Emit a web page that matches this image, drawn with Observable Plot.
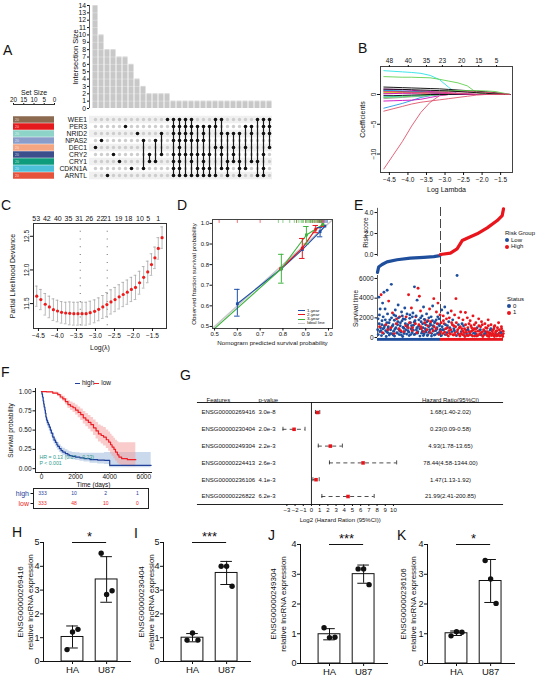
<!DOCTYPE html>
<html>
<head>
<meta charset="utf-8">
<script src="https://cdn.jsdelivr.net/npm/d3@7"></script>
<script src="https://cdn.jsdelivr.net/npm/@observablehq/plot@0.6"></script>
<style>
  html, body { margin: 0; padding: 0; background: #fff; }
  #fig { position: relative; width: 540px; height: 679px; overflow: hidden; background: #fff;
         font-family: "Liberation Sans", Arial, sans-serif; color: #111; }
  .tag { position: absolute; font-size: 14px; line-height: 1; }
  .note { position: absolute; white-space: nowrap; line-height: 1; }
</style>
</head>
<body>
<div id="fig"></div>
<script>
// ---------------- data ----------------
// A: UpSet of clock genes
const upsetGenes = ["WEE1","PER3","NRID2","NPAS2","DEC1","CRY2","CRY1","CDKN1A","ARNTL"];
const upsetColors = ["#8c6a4f","#e41a1c","#8dd3c7","#8a9cc9","#f4a582","#3b4f8c","#0e9c7c","#4cbfd9","#e5533d"];
const upsetSetSize = [20,20,20,20,20,20,20,20,20];
const upsetCounts = [14,10,8,8,7,7,6,4,3,2,2,2,2,1,1,1,1,1,1,1,1,1,1,1,1,1,1,1,1,1];
const upsetMembers = [
  [4],[3],[8],[5],[6],[1],[7],[2],[3,7],[5,6],[3,6],[2,5],[0],
  [0,1,2,3,5,6,7,8],[0,1,2,3,4,5,6,7,8],[0,1,2,3,5,8],[0,1,2,3,5,6,8],[1,3,5,7,8],
  [1,2,3,5,6,7,8],[1,5,7,8],[0,1,4,8],[0,2,4,5,7],[2,6,7,8],[2,4,5,6],[2,6,7,8],
  [1,4,7],[1,2,6],[0,6,8],[0,1,2,5,7,8],[0,1,2,4]
];

// B: LASSO coefficient paths
const lassoLogLambda = [-4.65,-4.4,-4.15,-3.9,-3.65,-3.4,-3.15,-2.9,-2.65,-2.4,-2.15,-1.9,-1.65,-1.4,-1.25];
const lassoColors = ["#28E2E5","#61D04F","#000000","#61D04F","#CD0BBC","#DF536B","#DF536B","#2297E6","#CD0BBC","#000000",
                     "#9E9E9E","#F5C710","#28E2E5","#61D04F","#DF536B","#2297E6","#000000","#CD0BBC","#000000","#DF536B"];
const lassoCoefs = [
  [4.0,3.9,3.8,3.7,3.55,3.2,2.5,1.2,0,0,0,0,0,0,0],
  [3.0,2.95,2.9,2.9,2.85,2.8,2.55,2.25,1.95,1.45,0.3,0,0,0,0],
  [1.25,1.2,1.15,1.1,1.05,1.0,0.95,0.85,0.75,0.65,0.55,0.45,0.3,0.08,0],
  [0.3,0.3,0.35,0.4,0.45,0.5,0.55,0.6,0.65,0.65,0.65,0.6,0.5,0.2,0],
  [0.9,0.85,0.8,0.7,0.6,0.5,0.4,0.3,0.2,0.1,0,0,0,0,0],
  [-12.5,-10.2,-7.9,-5.3,-3.0,-1.3,-0.2,0,0,0,0,0,0,0,0],
  [-2.8,-2.4,-2.0,-1.6,-1.3,-1.1,-0.9,-0.7,-0.5,-0.3,-0.1,0,0,0,0],
  [-2.3,-1.9,-1.5,-1.0,-0.5,-0.2,0,0,0,0,0,0,0,0,0],
  [-1.1,-1.05,-1.0,-0.95,-0.8,-0.5,-0.2,0,0,0,0,0,0,0,0],
  [0.6,0.55,0.5,0.45,0.4,0.3,0.2,0.1,0,0,0,0,0,0,0],
  [-0.7,-0.6,-0.5,-0.4,-0.3,-0.2,-0.1,0,0,0,0,0,0,0,0],
  [0.4,0.35,0.3,0.25,0.2,0.1,0,0,0,0,0,0,0,0,0],
  [-0.4,-0.35,-0.3,-0.25,-0.2,-0.1,0,0,0,0,0,0,0,0,0],
  [-0.5,-0.45,-0.4,-0.3,-0.2,-0.1,0,0,0,0,0,0,0,0,0],
  [0.2,0.2,0.25,0.3,0.3,0.35,0.4,0.42,0.45,0.45,0.4,0.35,0.25,0.1,0],
  [0.7,0.65,0.6,0.5,0.4,0.3,0.2,0.1,0,0,0,0,0,0,0],
  [-0.2,-0.2,-0.15,-0.1,-0.05,0,0,0,0,0,0,0,0,0,0],
  [0.1,0.15,0.2,0.2,0.25,0.25,0.2,0.15,0.1,0.05,0,0,0,0,0],
  [0.9,0.88,0.85,0.8,0.75,0.7,0.65,0.6,0.5,0.4,0.3,0.2,0.1,0,0],
  [0.5,0.5,0.45,0.4,0.35,0.3,0.25,0.2,0.15,0.1,0.05,0,0,0,0]
];
const lassoDf = ["48","40","35","23","20","15","5"];
const lassoDfLambda = [-4.5,-3.99,-3.5,-3.07,-2.55,-2.09,-1.61];

// C: cross-validated partial likelihood deviance
const cvLambda = [-4.545,-4.437,-4.321,-4.213,-4.106,-3.998,-3.891,-3.783,-3.676,-3.568,-3.46,-3.353,-3.245,-3.138,-3.022,-2.914,
                  -2.806,-2.699,-2.591,-2.484,-2.376,-2.269,-2.161,-2.054,-1.946,-1.839,-1.731,-1.624,-1.525,-1.435,-1.346,-1.247];
const cvDeviance = [11.61,11.56,11.49,11.45,11.41,11.39,11.37,11.36,11.355,11.35,11.35,11.35,11.35,11.365,11.385,11.415,
                    11.45,11.485,11.525,11.56,11.60,11.635,11.67,11.71,11.74,11.81,11.89,11.97,12.08,12.18,12.32,12.48];
const cvSE = [0.15,0.15,0.16,0.16,0.16,0.16,0.16,0.16,0.17,0.17,0.17,0.17,0.17,0.17,0.17,0.17,
              0.17,0.18,0.18,0.18,0.18,0.18,0.18,0.18,0.18,0.17,0.16,0.16,0.16,0.16,0.16,0.16];
const cvDf = ["53","42","40","35","31","26","22","21","19","18","10","5","1"];
const cvDfLambda = [-4.56,-4.28,-3.99,-3.71,-3.43,-3.16,-2.87,-2.69,-2.39,-2.13,-1.83,-1.61,-1.35];
const cvLambdaMin = -3.40, cvLambda1se = -2.69;

// D: nomogram calibration
const calibGroups = ["1-year","2-year","3-year"];
const calibColors = ["#1d4fa8","#e8141c","#3cb43c"];
const calibPred = [[0.60,0.793,0.885,0.963,0.984],[0.79,0.885,0.944,0.975],[0.46,0.793,0.903,0.975]];
const calibObs  = [[0.61,0.78,0.873,0.96,0.987],[0.78,0.88,0.972,0.99],[0.45,0.78,0.944,0.995]];
const calibLo   = [[0.55,null,null,0.935,null],[null,0.83,0.955,null],[null,0.71,0.90,null]];
const calibHi   = [[0.68,null,null,0.98,null],[null,0.927,0.99,null],[null,0.85,0.985,null]];
const calibRug  = [
  [0.96,0.97,0.975,0.98,0.985,0.99,0.995],
  [0.52,0.6,0.7,0.86,0.9,0.92,0.93,0.94,0.95,0.955,0.96,0.965,0.97,0.975,0.98],
  [0.78,0.8,0.83,0.85,0.86,0.87,0.88,0.885,0.89,0.9,0.905,0.91,0.915,0.92,0.925,0.93,0.935,0.94,0.945,0.95,0.955,0.96,0.965,0.97]
];
const calibIdeal = [0.4, 1.05];

// E: risk score and survival status
const riskRank  = [1,7,25,51,104,174,245,298,330,333,333,386,421,448,474,527,580,633,659,666];
const riskScore = [-1.7,-1.2,-0.95,-0.7,-0.5,-0.35,-0.27,-0.2,-0.1,-0.05,0.0,0.13,0.54,1.33,1.55,1.97,2.54,3.24,3.71,4.35];
const riskCut = 333.5, nPatients = 666;
// [rank, survival time (days), status]
const survivalPoints = [
  [8,4100,0],[15,2900,0],[20,4350,1],[28,3500,0],[35,4600,0],[41,2900,0],[52,4800,0],[60,3700,1],[74,5400,0],[80,2500,1],
  [88,2300,0],[95,2800,0],[102,1900,1],[110,3300,0],[118,2100,1],[128,2600,0],[137,1900,0],[145,3000,0],[152,2100,1],[165,4350,1],
  [172,2300,0],[180,3000,1],[188,2500,0],[196,5150,0],[203,2100,1],[210,3800,0],[215,5000,1],[222,4200,1],[228,2700,1],[236,2200,0],
  [244,3100,0],[252,1800,1],[260,2400,0],[268,1700,1],[276,2900,1],[284,2100,0],[292,3200,0],[298,3950,1],[305,1600,0],[312,2600,1],
  [320,3500,1],[326,1900,0],[331,2300,1],
  [2,800,0],[5,300,0],[10,1400,0],[13,600,0],[17,1000,0],[22,200,0],[25,1700,0],[30,900,0],[33,400,0],[38,1200,0],
  [44,700,0],[47,100,0],[50,1500,0],[55,500,0],[58,1100,0],[63,250,0],[66,1800,0],[70,800,0],[77,400,0],[83,1300,0],
  [86,650,0],[91,150,0],[98,1000,0],[105,450,0],[108,1600,0],[113,850,0],[116,300,0],[121,1200,0],[125,550,0],[131,1700,0],
  [134,100,0],[140,950,0],[143,600,0],[148,1400,0],[155,350,0],[158,1100,0],[162,700,0],[168,200,0],[175,1500,0],[178,900,0],
  [184,500,0],[191,1250,0],[194,300,0],[199,1700,0],[206,800,0],[212,450,0],[218,1150,0],[225,150,0],[231,1600,0],[238,650,0],
  [241,1000,0],[247,350,0],[255,1300,0],[258,750,0],[264,200,0],[271,1100,0],[274,550,0],[280,1400,0],[287,400,0],[290,900,0],
  [295,1200,0],[301,250,0],[308,700,0],[315,1000,0],[318,450,0],[323,1350,0],[329,600,0],
  [4,1900,0],[11,2300,0],[19,700,0],[24,1300,0],[31,2100,0],[36,1000,0],[42,1800,0],[49,600,0],[54,2400,0],[57,950,0],
  [62,1500,0],[68,400,0],[75,2000,0],[79,1150,0],[84,250,0],[90,1750,0],[93,850,0],[97,2200,0],[103,500,0],[107,1300,0],
  [112,2000,0],[117,700,0],[122,1500,0],[127,250,0],[132,2200,0],[136,1050,0],[141,400,0],[147,1850,0],[151,800,0],[157,2400,0],
  [161,1300,0],[166,550,0],[171,1950,0],[176,300,0],[181,1200,0],[185,2100,0],[190,750,0],[195,1550,0],[200,350,0],[205,2200,0],
  [209,1000,0],[214,600,0],[219,1800,0],[224,900,0],[229,2000,0],[234,450,0],[239,1400,0],[243,200,0],[248,1850,0],[253,900,0],
  [257,550,0],[262,1600,0],[267,300,0],[272,2000,0],[277,800,0],[281,1250,0],[286,150,0],[291,1700,0],[296,650,0],[302,1500,0],
  [306,300,0],[311,1800,0],[314,850,0],[319,2100,0],[324,400,0],[328,1200,0],[332,800,0],
  [12,1100,1],[45,1300,1],[72,1000,1],[100,1400,1],[123,700,1],[150,1200,1],[170,1500,1],[186,1000,1],[201,1400,1],[220,1300,1],
  [233,900,1],[250,1500,1],[266,1200,1],[282,1600,1],[300,1100,1],[316,1400,1],
  [27,500,1],[56,800,1],[89,400,1],[115,900,1],[139,600,1],[163,1000,1],[183,700,1],[208,500,1],[230,1100,1],[246,600,1],
  [263,800,1],[279,500,1],[294,700,1],[310,900,1],[325,300,1],
  [340,2800,0],[348,2200,1],[356,3100,0],[365,1900,1],[372,2500,0],[380,2000,1],[390,2700,1],[398,1800,0],[408,2300,1],[415,3950,1],
  [421,6300,0],[430,2000,1],[440,2600,1],[452,1800,1],[465,2550,1],[475,2000,1],[490,1700,1],[505,2200,1],[520,1500,1],[535,1900,1],
  [550,1600,1],[568,1400,1],[585,1800,1],[600,1300,1],[620,1200,1],[640,1500,1],[655,1100,1],
  [335,600,1],[338,200,0],[342,1100,0],[345,400,1],[350,800,0],[353,1400,1],[358,300,0],[361,900,1],[368,500,0],[370,1200,0],
  [375,150,1],[378,700,1],[383,1000,0],[386,350,1],[393,600,0],[396,1300,1],[401,250,1],[404,900,0],[410,500,1],[413,1100,1],
  [418,200,0],[424,800,1],[427,400,0],[433,1000,1],[436,150,1],[443,600,0],[446,900,1],[449,300,1],[455,1200,0],[458,500,1],
  [462,100,1],[468,750,1],[471,350,0],[478,1000,1],[481,200,1],[485,600,1],[488,400,0],[494,1200,1],[497,250,1],[501,700,1],
  [508,450,0],[511,900,1],[514,150,1],[518,600,1],[523,350,1],[527,1000,0],[530,200,1],[538,700,1],[541,400,1],[545,1100,1],
  [548,250,0],[553,550,1],[557,100,1],[561,800,1],[565,300,1],[571,600,0],[575,450,1],[579,950,1],[582,150,1],[588,500,1],
  [592,300,1],[596,750,0],[603,200,1],[607,600,1],[611,400,1],[615,900,1],[618,100,1],[624,500,1],[628,300,0],[632,700,1],
  [636,200,1],[643,450,1],[647,150,1],[651,600,1],[658,300,1],[662,100,1],[665,400,1],
  [337,1500,1],[344,800,0],[349,1700,1],[355,550,1],[360,1300,0],[366,300,1],[371,1000,1],[377,1600,0],[381,450,1],[388,800,1],
  [392,1500,1],[399,300,1],[403,1200,1],[407,700,0],[412,250,1],[417,1500,1],[422,600,1],[428,1300,0],[432,300,1],[438,1100,1],
  [442,400,1],[447,1400,0],[451,650,1],[456,250,1],[460,900,1],[466,1300,1],[470,550,1],[474,200,1],[479,800,0],[484,1400,1],
  [489,300,1],[493,600,1],[498,1000,1],[503,150,1],[507,800,1],[512,1300,1],[516,400,0],[521,900,1],[525,150,1],[531,650,1],
  [536,1200,1],[540,300,1],[544,800,0],[549,500,1],[554,1300,1],[558,200,1],[563,700,1],[567,400,0],[572,1000,1],[577,250,1],
  [581,600,1],[586,1200,1],[590,100,1],[594,450,1],[599,900,0],[604,350,1],[609,750,1],[613,200,1],[617,1100,1],[622,300,1],
  [626,650,1],[630,150,1],[634,1000,1],[639,350,1],[644,800,1],[649,200,1],[653,500,0],[656,900,1],[660,250,1],[664,650,1]
];

// F: Kaplan–Meier by risk group
const kmHighTime = [0,30,60,100,130,160,200,230,260,300,350,400,460,520,580,660,740,820,900,955,1050,1150,1250,1400,1550,1650,1800,2000,2250,2500,2850,3300,3700,4000,6430];
const kmHighSurv = [1.0,0.97,0.93,0.88,0.84,0.80,0.76,0.72,0.67,0.63,0.6,0.57,0.54,0.5,0.46,0.41,0.37,0.34,0.31,0.29,0.26,0.235,0.215,0.195,0.18,0.17,0.16,0.15,0.14,0.13,0.116,0.11,0.108,0.043,0.043];
const kmHighLo   = [1.0,0.95,0.9,0.85,0.8,0.76,0.71,0.67,0.62,0.58,0.55,0.52,0.49,0.45,0.41,0.36,0.32,0.29,0.26,0.24,0.21,0.19,0.17,0.15,0.135,0.125,0.115,0.105,0.095,0.085,0.07,0.06,0.055,0.012,0.012];
const kmHighHi   = [1.0,0.99,0.96,0.92,0.88,0.84,0.81,0.77,0.72,0.68,0.65,0.62,0.59,0.55,0.51,0.46,0.42,0.39,0.36,0.34,0.31,0.285,0.265,0.245,0.23,0.22,0.21,0.205,0.2,0.2,0.2,0.2,0.21,0.21,0.21];
const kmLowTime = [0,300,660,955,1100,1250,1400,1550,1700,1850,2000,2150,2300,2450,2600,2750,2900,3050,3200,3340,3500,3640,3800,3940,4050,4140,4250,4340,4450,4540,4700,5035,5530];
const kmLowSurv = [1.0,0.995,0.98,0.96,0.93,0.905,0.87,0.83,0.81,0.79,0.76,0.73,0.70,0.66,0.63,0.60,0.57,0.53,0.49,0.45,0.43,0.41,0.375,0.345,0.31,0.28,0.25,0.215,0.18,0.15,0.13,0.116,0.116];
const kmLowLo   = [1.0,0.99,0.965,0.94,0.9,0.87,0.83,0.78,0.755,0.73,0.695,0.66,0.625,0.58,0.545,0.51,0.475,0.43,0.385,0.345,0.32,0.295,0.26,0.225,0.19,0.16,0.13,0.1,0.07,0.05,0.035,0.025,0.025];
const kmLowHi   = [1.0,1.0,0.995,0.98,0.96,0.94,0.91,0.88,0.865,0.85,0.825,0.8,0.775,0.74,0.715,0.69,0.665,0.63,0.6,0.565,0.55,0.535,0.5,0.475,0.445,0.42,0.395,0.37,0.35,0.335,0.335,0.335,0.335];
const kmRiskTimes = [0,2000,4000,6000];
const kmRiskHigh = [333,10,2,1];
const kmRiskLow  = [333,48,10,0];

// G: univariate Cox forest plot
const hrFeatures = ["ENSG00000269416","ENSG00000230404","ENSG00000249304","ENSG00000224413","ENSG00000236106","ENSG00000226822"];
const hrPvalue = ["3.0e-8","2.0e-3","2.2e-3","2.6e-3","4.1e-3","6.2e-3"];
const hrValue = [1.68,0.23,4.93,78.44,1.47,21.99];
const hrLower = [1.40,0.09,1.78,4.58,1.13,2.41];
const hrUpper = [2.02,0.58,13.65,1344.00,1.92,200.85];
const hrTicks = [-3,-2,-1,0,1,2,3,4,5,6,7,8,9,10];

// H–K: qPCR validation
const qpcrGenes = ["ENSG00000269416","ENSG00000230404","ENSG00000249304","ENSG00000236106"];
const qpcrGroups = ["HA","U87"];
const qpcrHA  = [[0.50,1.24,1.35],[0.90,1.20,0.90],[1.20,0.87,0.88],[0.93,1.07,1.05]];
const qpcrU87 = [[4.55,2.82,2.97],[4.00,4.00,3.16],[3.18,3.18,2.65],[3.46,2.84,2.02]];
const qpcrStars = ["*","***","***","*"];
const qpcrYMax = [5,5,4,4];

// ---------------- helpers ----------------
const FONT = '"Liberation Sans", Arial, sans-serif';
const fig = document.getElementById("fig");
const minus = s => String(s).replace("-", "\u2212");
function place(svg, left, top) {
  Object.assign(svg.style, {position: "absolute", left: left + "px", top: top + "px", background: "transparent",
    overflow: "visible", fontFamily: FONT, maxWidth: "none", color: "#111"});
  fig.appendChild(svg);
  return svg;
}
function note(html, left, top, css = {}) {
  const d = document.createElement("div");
  d.className = "note";
  d.innerHTML = html;
  Object.assign(d.style, {left: left + "px", top: top + "px"}, css);
  fig.appendChild(d);
  return d;
}
// vertical axis title, centred on the frame's left edge
const yTitle = (text, dx, opts = {}) =>
  Plot.text([text], {frameAnchor: "left", rotate: -90, textAnchor: "middle", lineAnchor: "middle", dx, ...opts});
const swatch = (c, w = 6, h = 1.2) => `<span style="display:inline-block;width:${w}px;height:${h}px;background:${c};vertical-align:middle;margin-right:2px"></span>`;
const dotSw = c => `<span style="display:inline-block;width:4px;height:4px;border-radius:2px;background:${c};vertical-align:middle;margin-right:2px"></span>`;

// panel letters
const panelTags = ["A","B","C","D","E","F","G","H","I","J","K"];
const tagPos = [[3,43],[358,41],[1,198],[177,198],[354,198],[1,365],[180,368],[12,525],[134,526],[268,528],[397,528]];
panelTags.forEach((t, i) => { const d = document.createElement("div"); d.className = "tag"; d.textContent = t;
  d.style.left = tagPos[i][0] + "px"; d.style.top = tagPos[i][1] + "px"; fig.appendChild(d); });

// ---------------- A: UpSet ----------------
const cols = upsetCounts.map((n, i) => ({k: i + 1, n, members: upsetMembers[i]}));
place(Plot.plot({
  width: 275, height: 112, marginLeft: 89, marginRight: 3, marginTop: 5, marginBottom: 4,
  x: {domain: [0, 30.5], axis: null},
  y: {domain: [0, 14], axis: null},
  marks: [
    Plot.rectY(cols, {x1: d => d.k - 0.42, x2: d => d.k + 0.42, y: "n", fill: "#c8c8c8"}),
    Plot.ruleY(d3.range(1, 15), {stroke: "#fff", strokeWidth: 0.5, strokeOpacity: 0.6}),
    Plot.ruleX([0], {stroke: "#333", strokeWidth: 0.8}),
    Plot.axisY({ticks: d3.range(0, 15), tickSize: 2, tickPadding: 1.5, fontSize: 6.8, label: null}),
    yTitle("Intersection Size", -14, {fontSize: 7.5})
  ]
}), 0, 0);

const cells = [];
cols.forEach(c => upsetGenes.forEach((g, j) => cells.push({k: c.k, g, on: c.members.includes(j)})));
const spans = cols.filter(c => c.members.length > 1)
  .map(c => ({k: c.k, a: upsetGenes[d3.min(c.members)], b: upsetGenes[d3.max(c.members)]}));
place(Plot.plot({
  width: 275, height: 190, marginLeft: 89, marginRight: 3, marginTop: 109, marginBottom: 5,
  x: {domain: [0, 30.5], axis: null},
  y: {domain: upsetGenes, range: [114, 180], axis: null},
  marks: [
    Plot.ruleY(upsetGenes.filter((g, j) => j % 2 === 0), {y: d => d, stroke: "#f0f0f0", strokeWidth: 7.5}),
    Plot.dot(cells.filter(d => !d.on), {x: "k", y: "g", r: 1.7, fill: "#cdcdcd"}),
    Plot.ruleX(spans, {x: "k", y1: "a", y2: "b", stroke: "#1a1a1a", strokeWidth: 1.2}),
    Plot.dot(cells.filter(d => d.on), {x: "k", y: "g", r: 1.8, fill: "#111"}),
    Plot.text(upsetGenes, {x: 0, y: d => d, dx: -2.5, textAnchor: "end", fontSize: 6.8})
  ]
}), 0, 0);

const setRows = upsetGenes.map((g, j) => ({g, n: upsetSetSize[j], c: upsetColors[j]}));
place(Plot.plot({
  width: 60, height: 190, marginLeft: 13, marginRight: 6, marginTop: 104, marginBottom: 5,
  x: {domain: [0, 20], range: [54, 13], axis: null},
  y: {domain: upsetGenes, range: [114, 180], axis: null},
  color: {type: "identity"},
  marks: [
    Plot.ruleY(setRows, {y: "g", x1: 0, x2: "n", stroke: "c", strokeWidth: 6.5}),
    Plot.text(setRows, {y: "g", x: "n", text: d => String(d.n), dx: 1.5, textAnchor: "start", fill: "#fff", fillOpacity: 0.75, fontSize: 3.5}),
    Plot.axisX({anchor: "top", ticks: [20, 15, 10, 5, 0], tickSize: 2, tickPadding: 1, fontSize: 6.3, label: null}),
    Plot.frame({anchor: "top", stroke: "#333"}),
    Plot.text(["Set Size"], {frameAnchor: "top", dy: -14, fontSize: 7})
  ]
}), 0, 0);

// ---------------- B: LASSO paths ----------------
const lassoRows = lassoCoefs.flatMap((cs, p) => cs.map((c, i) => ({p, l: lassoLogLambda[i], c, col: lassoColors[p]})));
const dfMapB = new Map(lassoDfLambda.map((l, i) => [l, lassoDf[i]]));
place(Plot.plot({
  width: 185, height: 165, marginLeft: 25, marginRight: 28, marginTop: 26, marginBottom: 33,
  x: {domain: [-4.74, -1.18]}, y: {domain: [-13.1, 4.7]},
  color: {type: "identity"},
  marks: [
    Plot.line(lassoRows, {x: "l", y: "c", z: "p", stroke: "col", strokeWidth: 0.9, clip: true}),
    Plot.frame({stroke: "#444"}),
    Plot.axisX({ticks: d3.range(-4.5, -1.4, 0.5), tickFormat: d => minus(d.toFixed(1)), tickSize: 3, tickPadding: 1.5, fontSize: 6.5, label: null}),
    Plot.axisX({anchor: "top", ticks: lassoDfLambda, tickFormat: d => dfMapB.get(d), tickSize: 2, tickPadding: 1.5, fontSize: 6.5, label: null}),
    Plot.axisY({ticks: [-10, -5, 0], tickFormat: d => minus(d), tickRotate: -90, tickSize: 3, tickPadding: 1.5, fontSize: 6.5, label: null}),
    Plot.text(["Log Lambda"], {frameAnchor: "bottom", dy: 19, fontSize: 7}),
    yTitle("Coefficients", -18, {fontSize: 7})
  ]
}), 355, 40);

// ---------------- C: CV deviance ----------------
const cvRows = cvLambda.map((l, i) => ({l, dev: cvDeviance[i], se: cvSE[i]}));
const dfMapC = new Map(cvDfLambda.map((l, i) => [l, cvDf[i]]));
place(Plot.plot({
  width: 180, height: 150, marginLeft: 33, marginRight: 14, marginTop: 18, marginBottom: 27,
  x: {domain: [-4.63, -1.13]}, y: {domain: [11.13, 12.69]},
  marks: [
    Plot.ruleX([cvLambdaMin, cvLambda1se], {stroke: "#333", strokeDasharray: "0.8,7", strokeWidth: 0.9}),
    Plot.ruleX(cvRows, {x: "l", y1: d => d.dev - d.se, y2: d => d.dev + d.se, stroke: "#a8a8a8", strokeWidth: 0.8}),
    Plot.ruleY(cvRows, {y: d => d.dev + d.se, x1: d => d.l - 0.035, x2: d => d.l + 0.035, stroke: "#a8a8a8", strokeWidth: 0.8}),
    Plot.ruleY(cvRows, {y: d => d.dev - d.se, x1: d => d.l - 0.035, x2: d => d.l + 0.035, stroke: "#a8a8a8", strokeWidth: 0.8}),
    Plot.dot(cvRows, {x: "l", y: "dev", r: 1.6, fill: "#ee1c1c"}),
    Plot.frame({stroke: "#333"}),
    Plot.axisX({ticks: d3.range(-4.5, -1.4, 0.5), tickFormat: d => minus(d.toFixed(1)), tickSize: 3, tickPadding: 1.5, fontSize: 6.5, label: null}),
    Plot.axisX({anchor: "top", ticks: cvDfLambda, tickFormat: d => dfMapC.get(d), tickSize: 0, tickPadding: 3, fontSize: 7, label: null}),
    Plot.axisY({ticks: [11.5, 12, 12.5], tickFormat: d => d.toFixed(1), tickRotate: -90, tickSize: 3, tickPadding: 1.5, fontSize: 6.5, label: null}),
    Plot.text(["Log(\u03bb)"], {frameAnchor: "bottom", dy: 21, fontSize: 7}),
    yTitle("Partial Likelihood Deviance", -21, {fontSize: 7})
  ]
}), 0, 205);

// ---------------- D: calibration ----------------
const calibRows = calibGroups.flatMap((g, s) => calibPred[s].map((p, i) =>
  ({g, p, o: calibObs[s][i], lo: calibLo[s][i], hi: calibHi[s][i], col: calibColors[s]})));
const calibBars = calibRows.filter(d => d.lo != null);
const rugRows = calibRug.flatMap((vs, s) => vs.map(v => ({v, col: calibColors[s]})));
place(Plot.plot({
  width: 180, height: 150, marginLeft: 32, marginRight: 28, marginTop: 14, marginBottom: 27,
  x: {domain: [0.491, 1.0175]}, y: {domain: [0.49, 1.019]},
  color: {type: "identity"},
  marks: [
    Plot.line(calibIdeal.map(v => [v, v]), {stroke: "#c8c8c8", strokeWidth: 1.6, clip: true}),
    Plot.line(calibRows, {x: "p", y: "o", z: "g", stroke: "col", strokeWidth: 1.1, clip: true}),
    Plot.ruleX(calibBars, {x: "p", y1: "lo", y2: "hi", stroke: "col", strokeWidth: 1}),
    Plot.ruleY(calibBars, {y: "lo", x1: d => d.p - 0.012, x2: d => d.p + 0.012, stroke: "col"}),
    Plot.ruleY(calibBars, {y: "hi", x1: d => d.p - 0.012, x2: d => d.p + 0.012, stroke: "col"}),
    Plot.dot(calibRows, {x: "p", y: "o", symbol: "square", r: 1.6, fill: "col", clip: true}),
    Plot.ruleX(rugRows, {x: "v", y1: 1.019, y2: 1.0, stroke: "col", strokeWidth: 0.6}),
    Plot.frame({stroke: "#444"}),
    Plot.axisX({ticks: [0.5, 0.6, 0.7, 0.8, 0.9, 1.0], tickFormat: d => d.toFixed(1), tickSize: 2.5, tickPadding: 1, fontSize: 6, label: null}),
    Plot.axisY({ticks: [0.5, 0.6, 0.7, 0.8, 0.9, 1.0], tickFormat: d => d.toFixed(1), tickSize: 2.5, tickPadding: 1, fontSize: 6, label: null}),
    Plot.text(["Nomogram predicted survival probability"], {frameAnchor: "bottom", dy: 16, fontSize: 6.2}),
    yTitle("Observed fraction survival probability", -18, {fontSize: 6.2})
  ]
}), 180, 205);
note(calibGroups.map((g, i) => `<div style="height:4.1px">${swatch(calibColors[i], 7, 1)}${g}</div>`).join("") +
     `<div style="height:4.1px">${swatch("#c8c8c8", 7, 1.2)}Ideal line</div>`, 298, 309, {fontSize: "4.4px"});

// ---------------- E: risk score / survival status ----------------
const BLUE_E = "#1f4f9c", RED_E = "#e8151c";
const riskRows = riskRank.map((r, i) => ({r, s: riskScore[i], grp: i < riskRank.indexOf(333) + 1 ? "Low" : "High"}));
place(Plot.plot({
  width: 190, height: 70, marginLeft: 27, marginRight: 37, marginTop: 2, marginBottom: 0,
  x: {domain: [1, nPatients], axis: null}, y: {domain: [-2.0, 4.48], axis: null},
  marks: [
    Plot.ruleX([1], {y1: -0.2, y2: 4.4, stroke: "#333", strokeWidth: 0.8}),
    Plot.ruleX([riskCut], {stroke: "#333", strokeDasharray: "9,3", strokeWidth: 0.9}),
    Plot.line(riskRows.filter(d => d.grp === "Low"), {x: "r", y: "s", stroke: BLUE_E, strokeWidth: 3.2}),
    Plot.line(riskRows.filter(d => d.grp === "High"), {x: "r", y: "s", stroke: RED_E, strokeWidth: 3.2}),
    Plot.axisY({ticks: [0, 2, 4], tickSize: 2.5, tickPadding: 1.5, fontSize: 6.5, label: null}),
    yTitle("Risk score", -12, {dy: -9, fontSize: 6.5})
  ]
}), 350, 205);
const survRows = survivalPoints.map(([r, t, s]) => ({r, t, s}));
place(Plot.plot({
  width: 190, height: 70, marginLeft: 27, marginRight: 37, marginTop: 0, marginBottom: 4,
  x: {domain: [1, nPatients], axis: null}, y: {domain: [-400, 6300], axis: null},
  color: {type: "identity"},
  marks: [
    Plot.ruleX([1], {y1: 0, y2: 6300, stroke: "#333", strokeWidth: 0.8}),
    Plot.ruleX([riskCut], {y1: 0, y2: 6300, stroke: "#333", strokeDasharray: "9,3", strokeWidth: 0.9}),
    Plot.dot(survRows, {x: "r", y: "t", r: 1.45, fill: d => d.s ? RED_E : BLUE_E}),
    Plot.rect([{a: 1, b: riskCut, c: BLUE_E}, {a: riskCut, b: nPatients, c: RED_E}], {x1: "a", x2: "b", y1: -380, y2: -90, fill: "c"}),
    Plot.axisY({ticks: [0, 2000, 4000, 6000], tickFormat: d => String(d), tickSize: 2.5, tickPadding: 1.5, fontSize: 6.5, label: null}),
    yTitle("Survival time", -22, {fontSize: 6.5})
  ]
}), 350, 275);
note(`<div>Risk Group</div><div>${dotSw(BLUE_E)}Low</div><div>${dotSw(RED_E)}High</div>`, 505, 230, {fontSize: "6px", lineHeight: "6.6px"});
note(`<div>Status</div><div>${dotSw(BLUE_E)}0</div><div>${dotSw(RED_E)}1</div>`, 507, 296, {fontSize: "6px", lineHeight: "6.6px"});

// ---------------- F: Kaplan–Meier ----------------
const KM_BLUE = "#21409a", KM_RED = "#ee1c24";
const kmHigh = kmHighTime.map((t, i) => ({t, s: kmHighSurv[i], lo: kmHighLo[i], hi: kmHighHi[i]}));
const kmLow = kmLowTime.map((t, i) => ({t, s: kmLowSurv[i], lo: kmLowLo[i], hi: kmLowHi[i]}));
place(Plot.plot({
  width: 180, height: 115, marginLeft: 35, marginRight: 29, marginTop: 13, marginBottom: 18,
  x: {domain: [-350, 6450]}, y: {domain: [-0.05, 1.04]},
  marks: [
    Plot.areaY(kmHigh, {x: "t", y1: "lo", y2: "hi", curve: "step-after", fill: "#9fb9dc", fillOpacity: 0.55}),
    Plot.areaY(kmLow, {x: "t", y1: "lo", y2: "hi", curve: "step-after", fill: "#f4a0a0", fillOpacity: 0.55}),
    Plot.line(kmHigh, {x: "t", y: "s", curve: "step-after", stroke: KM_BLUE, strokeWidth: 1.2}),
    Plot.line(kmLow, {x: "t", y: "s", curve: "step-after", stroke: KM_RED, strokeWidth: 1.2}),
    Plot.frame({anchor: "left", stroke: "#222"}),
    Plot.frame({anchor: "bottom", stroke: "#222"}),
    Plot.axisX({ticks: kmRiskTimes, tickFormat: d => String(d), tickSize: 1.5, tickPadding: 0.5, fontSize: 6.5, label: null}),
    Plot.axisY({ticks: [0, 0.25, 0.5, 0.75, 1], tickFormat: d => d.toFixed(2), tickSize: 2.5, tickPadding: 1.5, fontSize: 6.5, label: null}),
    Plot.text(["HR = 0.13 (0.07 \u2212 0.23)"], {frameAnchor: "bottom-left", dx: 4, dy: -14, textAnchor: "start", fill: "#2e9a8c", fontSize: 5.2}),
    Plot.text(["P < 0.001"], {frameAnchor: "bottom-left", dx: 4, dy: -7.5, textAnchor: "start", fill: "#2e9a8c", fontSize: 5.2}),
    Plot.text(["Time (days)"], {frameAnchor: "bottom", dy: 14.5, fontSize: 6.5}),
    yTitle("Survival probability", -25, {fontSize: 6.5})
  ]
}), 0, 375);
note(`${swatch(KM_BLUE, 5, 1.2)}high${swatch(KM_RED, 5, 1.2)}low`, 75, 380, {fontSize: "6.5px"});

const riskTable = kmRiskTimes.flatMap((t, i) => [
  {t, g: "high", n: kmRiskHigh[i], c: KM_BLUE}, {t, g: "low", n: kmRiskLow[i], c: KM_RED}]);
place(Plot.plot({
  width: 180, height: 24, marginLeft: 33, marginRight: 32, marginTop: 2, marginBottom: 2,
  x: {domain: [-570, 6710], axis: null}, y: {type: "band", domain: ["high", "low"], padding: 0, axis: null},
  color: {type: "identity"},
  marks: [
    Plot.frame({stroke: "#222"}),
    Plot.text(riskTable, {x: "t", y: "g", text: d => String(d.n), fill: "c", fontSize: 5}),
    Plot.axisY(["high"], {tickSize: 2.5, tickPadding: 2, fill: KM_BLUE, fontSize: 7, label: null}),
    Plot.axisY(["low"], {tickSize: 2.5, tickPadding: 2, fill: KM_RED, fontSize: 7, label: null})
  ]
}), 0, 486);

// ---------------- G: forest plot ----------------
const gRows = hrFeatures.map((f, i) => ({
  i, f, p: hrPvalue[i], l2: Math.log2(hrValue[i]), lo: Math.log2(hrLower[i]), hi: Math.log2(hrUpper[i]),
  txt: `${hrValue[i].toFixed(2)}(${hrLower[i].toFixed(2)}-${hrUpper[i].toFixed(2)})`}));
place(Plot.plot({
  width: 325, height: 140, marginLeft: 12, marginRight: 8, marginTop: 12, marginBottom: 26,
  x: {domain: [-13.9, 23.3], axis: null}, y: {domain: [0, 5], range: [22, 106], axis: null},
  marks: [
    Plot.frame({anchor: "top", stroke: "#222", strokeWidth: 1.1}),
    Plot.frame({anchor: "bottom", stroke: "#222", strokeWidth: 1.1}),
    Plot.ruleX([0], {stroke: "#111", strokeWidth: 0.9}),
    Plot.ruleY(gRows, {y: "i", x1: "lo", x2: "hi", stroke: "#222", strokeDasharray: "4,3.2", strokeWidth: 0.8}),
    Plot.ruleX(gRows, {x: "lo", y1: d => d.i - 0.12, y2: d => d.i + 0.12, stroke: "#222", strokeWidth: 0.8}),
    Plot.ruleX(gRows, {x: "hi", y1: d => d.i - 0.12, y2: d => d.i + 0.12, stroke: "#222", strokeWidth: 0.8}),
    Plot.dot(gRows, {x: "l2", y: "i", symbol: "square", r: 2, fill: "#e8141c"}),
    Plot.text(gRows, {frameAnchor: "left", y: "i", text: "f", dx: 4, textAnchor: "start", fontSize: 6}),
    Plot.text(gRows, {frameAnchor: "left", y: "i", text: "p", dx: 61, textAnchor: "start", fontSize: 6}),
    Plot.text(gRows, {frameAnchor: "right", y: "i", text: "txt", dx: -52, textAnchor: "middle", fontSize: 6}),
    Plot.text(["Features"], {frameAnchor: "top-left", dx: 9, dy: -5, textAnchor: "start", fontSize: 6}),
    Plot.text(["p-value"], {frameAnchor: "top-left", dx: 61, dy: -5, textAnchor: "start", fontSize: 6}),
    Plot.text(["Hazard Ratio(95%CI)"], {frameAnchor: "top-right", dx: -52, dy: -5, textAnchor: "middle", fontSize: 6}),
    Plot.axisX({ticks: hrTicks, tickFormat: d => minus(d), tickSize: 2, tickPadding: 1.5, fontSize: 6, label: null}),
    Plot.text(["Log2 (Hazard Ration (95%CI))"], {x: (hrTicks[0] + hrTicks[hrTicks.length - 1]) / 2, frameAnchor: "bottom", dy: 17, fontSize: 6})
  ]
}), 185, 390);

// ---------------- H–K: qPCR bars ----------------
const JIT = [-0.16, 0.0, 0.16];
// [svg left, axis margin, top margin, bottom margin, y-title offset]
const qpcrPlace = [[0, 43, 17, 18, -19], [120, 43, 17, 18, -18], [257, 43, 19, 16, -23], [384, 43, 19, 16, -20]];
qpcrGenes.forEach((gene, i) => {
  const [left, ml, mt, mb, labDx] = qpcrPlace[i];
  const groups = qpcrGroups.map((g, j) => {
    const v = j ? qpcrU87[i] : qpcrHA[i];
    return {g, x: j + 1, v, mean: d3.mean(v), sd: d3.deviation(v)};
  });
  const pts = groups.flatMap(d => d.v.map((y, k) => ({x: d.x + JIT[k], y})));
  const ymax = qpcrYMax[i];
  place(Plot.plot({
    width: 135, height: 154, marginLeft: ml, marginRight: 135 - ml - 87, marginTop: mt, marginBottom: mb,
    x: {domain: [0.15, 2.7], axis: null}, y: {domain: [0, ymax], axis: null},
    marks: [
      Plot.rectY(groups, {x1: d => d.x - 0.32, x2: d => d.x + 0.32, y: "mean", fill: "#fff", stroke: "#111", strokeWidth: 1}),
      Plot.ruleX(groups, {x: "x", y1: d => d.mean - d.sd, y2: d => d.mean + d.sd, stroke: "#111", strokeWidth: 1}),
      Plot.ruleY(groups, {y: d => d.mean + d.sd, x1: d => d.x - 0.17, x2: d => d.x + 0.17, stroke: "#111", strokeWidth: 1}),
      Plot.ruleY(groups, {y: d => d.mean - d.sd, x1: d => d.x - 0.17, x2: d => d.x + 0.17, stroke: "#111", strokeWidth: 1}),
      Plot.dot(pts, {x: "x", y: "y", r: 2.7, fill: "#111"}),
      Plot.frame({anchor: "left", stroke: "#111", strokeWidth: 1}),
      Plot.frame({anchor: "bottom", stroke: "#111", strokeWidth: 1}),
      Plot.axisY({ticks: d3.range(0, ymax + 1), tickFormat: d => String(d), tickSize: 3, tickPadding: 1, fontSize: 9, label: null}),
      Plot.axisX({ticks: [1, 2], tickFormat: d => qpcrGroups[d - 1], tickSize: 3, tickPadding: 2, fontSize: 9.5, label: null}),
      Plot.ruleY([ymax], {x1: 1, x2: 2, stroke: "#111", strokeWidth: 1}),
      Plot.text([qpcrStars[i]], {x: 1.5, y: ymax, dy: -6, fontSize: 13}),
      yTitle(gene + "\nrelative lncRNA expression", labDx, {lineHeight: 1.35, fontSize: 8})
    ]
  }), left, 525);
});
</script>
</body>
</html>
